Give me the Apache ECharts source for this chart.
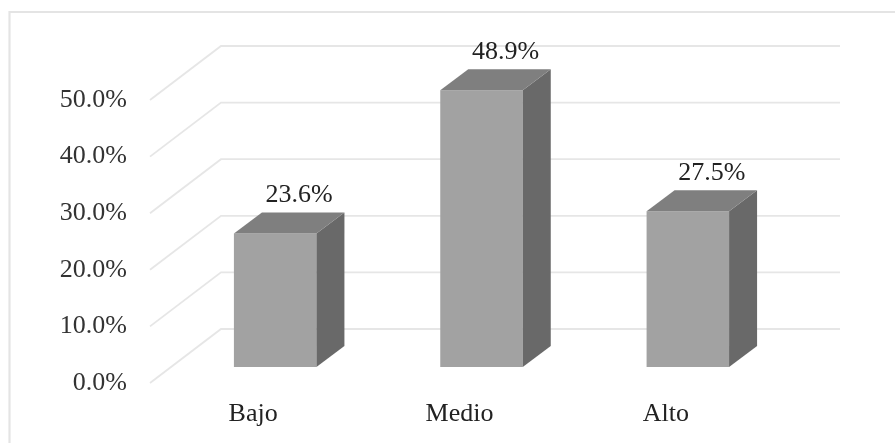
<!DOCTYPE html>
<html>
<head>
<meta charset="utf-8">
<style>html,body{margin:0;padding:0;background:#fff}#c{width:895px;height:443px}</style>
<script src="https://cdn.jsdelivr.net/npm/echarts@6/dist/echarts.min.js"></script>
</head>
<body>
<div id="c"></div>
<script>
const categories = ['Bajo', 'Medio', 'Alto'];
const values = [23.6, 48.9, 27.5];
const yTicks = [0, 10, 20, 30, 40, 50];

const FONT = '"Liberation Serif","Times New Roman",serif';
const WALL = [71, -54];      // floor depth of the back wall
const BAR_SHIFT = [22, -16]; // bar front plane relative to axis plane
const BAR_DEPTH = [28, -21];
const BAR_W = 82.5;
const GRID_COLOR = '#e6e6e6';
const chart = echarts.init(document.getElementById('c'), null, {renderer: 'canvas'});

function renderWall(params, api) {
  const p = api.coord([0, api.value(0)]);
  const rect = params.coordSys;
  const x0 = rect.x, y = p[1];
  const style = {stroke: GRID_COLOR, lineWidth: 1.8, fill: 'none'};
  return {type: 'group', silent: true, children: [
    {type: 'polyline', shape: {points: [[x0, y], [x0 + WALL[0], y + WALL[1]], [rect.x + rect.width + WALL[0], y + WALL[1]]]}, style}
  ]};
}

function renderBar(params, api) {
  const idx = api.value(0), v = api.value(1);
  const base = api.coord([idx, 0]);
  const top = api.coord([idx, v]);
  const cx = base[0] + BAR_SHIFT[0];
  const l = cx - BAR_W / 2, r = cx + BAR_W / 2;
  const b = base[1] + BAR_SHIFT[1], t = top[1] + BAR_SHIFT[1];
  const dx = BAR_DEPTH[0], dy = BAR_DEPTH[1];
  return {type: 'group', children: [
    {type: 'polygon', shape: {points: [[l, t], [r, t], [r, b], [l, b]]}, style: {fill: '#a2a2a2'}},
    {type: 'polygon', shape: {points: [[r, t], [r + dx, t + dy], [r + dx, b + dy], [r, b]]}, style: {fill: '#696969'}},
    {type: 'polygon', shape: {points: [[l, t], [l + dx, t + dy], [r + dx, t + dy], [r, t]]}, style: {fill: '#7f7f7f'}},
    {type: 'text', style: {x: cx + 24, y: t + dy - 17, text: v.toFixed(1) + '%', font: '26px ' + FONT, fill: '#222', align: 'center', verticalAlign: 'middle'}}
  ]};
}

chart.setOption({
  animation: false,
  backgroundColor: '#fff',
  graphic: [{type: 'polyline', shape: {points: [[9.5, 443], [9.5, 12], [895, 12]]}, style: {fill: 'none', stroke: '#e4e4e4', lineWidth: 2.2}, silent: true}],
  grid: {left: 150, right: 126, top: 100, bottom: 60},
  xAxis: {
    type: 'category', data: categories,
    axisLine: {show: false}, axisTick: {show: false}, splitLine: {show: false},
    axisLabel: {margin: 18, color: '#222', fontFamily: FONT, fontSize: 26}
  },
  yAxis: {
    type: 'value', min: 0, max: 50, interval: 10,
    axisLine: {show: false}, axisTick: {show: false}, splitLine: {show: false},
    axisLabel: {margin: 23, color: '#333', fontFamily: FONT, fontSize: 26, formatter: v => v.toFixed(1) + '%'}
  },
  series: [
    {type: 'custom', coordinateSystem: 'cartesian2d', renderItem: renderWall, clip: false, encode: {y: 0},
     data: yTicks.map(v => [v]), z: 1},
    {type: 'custom', coordinateSystem: 'cartesian2d', renderItem: renderBar, clip: false, encode: {x: 0, y: 1},
     data: values.map((v, i) => [i, v]), z: 2}
  ]
});
</script>
</body>
</html>
